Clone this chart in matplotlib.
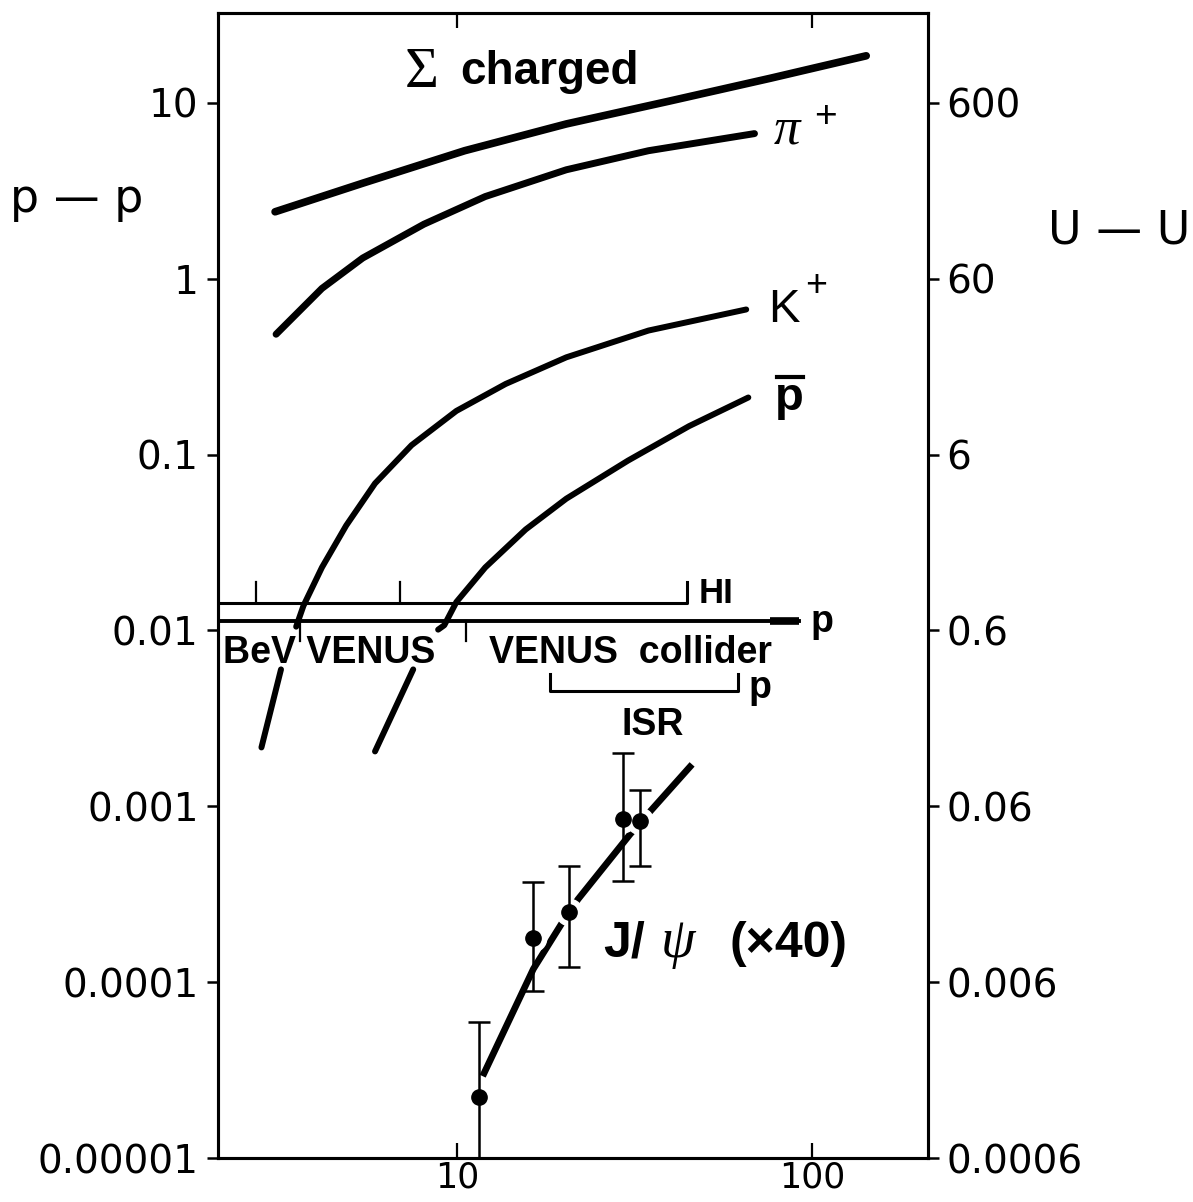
import numpy as np
import matplotlib.pyplot as plt
from matplotlib.lines import Line2D

W, H = 1193, 1202

# curves (x = energy, y = ratio to p-p)
x_sigma = [3.07, 5.42, 10.5, 20.3, 39.4, 76.4, 142]
y_sigma = [2.40, 3.49, 5.34, 7.58, 10.2, 13.8, 18.5]

x_pi = [3.09, 4.16, 5.42, 8.06, 12.0, 20.3, 34.6, 68.8]
y_pi = [0.483, 0.880, 1.31, 2.04, 2.93, 4.16, 5.34, 6.68]

x_k = [2.81, 3.19, np.nan, 3.52, 3.69, 4.16, 4.87, 5.87, 7.44, 9.95, 13.7, 20.3, 34.6, 65.2]
y_k = [0.00216, 0.0060, np.nan, 0.0105, 0.0138, 0.0228, 0.0395, 0.0685, 0.113, 0.177,
       0.252, 0.357, 0.507, 0.668]

x_pbar = [5.87, 7.52, np.nan, 8.84, 9.20, 9.95, 12.0, 15.6, 20.3, 30.3, 45.0, 66.1]
y_pbar = [0.00205, 0.0060, np.nan, 0.0101, 0.0107, 0.0145, 0.0228, 0.0375, 0.0561, 0.0924,
          0.145, 0.211]

# J/psi points with error bars
x_jpsi = [11.5, 16.4, 20.7, 29.4, 32.7]
y_jpsi = [2.22e-5, 1.78e-4, 2.50e-4, 8.43e-4, 8.22e-4]
y_jpsi_hi = [5.93e-5, 3.70e-4, 4.56e-4, 2.0e-3, 1.23e-3]
y_jpsi_lo = [8.0e-6, 8.9e-5, 1.22e-4, 3.75e-4, 4.56e-4]

x_jfit = [11.8, 16.4, 19.8, 21.9, 30.7, 35.0, 45.9]
y_jfit = [2.92e-5, 1.19e-4, 2.19e-4, 2.96e-4, 6.93e-4, 9.37e-4, 1.73e-3]

# machine ranges
hi_end, hi_y, hi_ticks = 44.5, 0.0144, [2.72, 6.9]
p_end, p_y, p_ticks = 92, 0.01125, [3.6, 10.6]
isr_x, isr_y = [18.3, 61.9], 0.0045

yticks_left = [1e-5, 1e-4, 1e-3, 1e-2, 1e-1, 1, 10]
ylabels_left = ['0.00001', '0.0001', '0.001', '0.01', '0.1', '1', '10']
ylabels_right = ['0.0006', '0.006', '0.06', '0.6', '6', '60', '600']
scale_right = 60

xmin, xmax = 2.12, 212
ymin, ymax = 1e-5, 32.4


def fp(x, y):
    return x / W, 1 - y / H


fig = plt.figure(figsize=(W / 100, H / 100), dpi=100)
ax = fig.add_axes([218 / W, 1 - 1158 / H, 710 / W, 1145 / H])
ax.set_xscale('log')
ax.set_yscale('log')
ax.set_xlim(xmin, xmax)
ax.set_ylim(ymin, ymax)

lw = 5
ax.plot(x_sigma, y_sigma, color='black', lw=lw + 0.5, solid_capstyle='round')
ax.plot(x_pi, y_pi, color='black', lw=lw, solid_capstyle='round')
ax.plot(x_k, y_k, color='black', lw=4.3, solid_capstyle='round')
ax.plot(x_pbar, y_pbar, color='black', lw=4.3, solid_capstyle='round')

# accelerator lines
ax.plot([xmin, hi_end, hi_end], [hi_y, hi_y, 0.01875], color='black', lw=2.2)
for t in hi_ticks:
    ax.plot([t, t], [hi_y, 0.01875], color='black', lw=1.6)
ax.plot([xmin, p_end], [p_y, p_y], color='black', lw=2.8)
ax.plot([76, p_end], [p_y, p_y], color='black', lw=5.5, solid_capstyle='butt')
for t in p_ticks:
    ax.plot([t, t], [p_y, 0.00866], color='black', lw=1.6)
ax.plot([isr_x[0], isr_x[0], isr_x[1], isr_x[1]], [0.00562, isr_y, isr_y, 0.00562],
        color='black', lw=2.2)

# J/psi
ax.plot(x_jfit, y_jfit, color='black', lw=4.8, solid_capstyle='butt', zorder=2)
ax.plot(x_jpsi, y_jpsi, 'o', ms=19, color='white', zorder=3)
yerr = [np.array(y_jpsi) - np.array(y_jpsi_lo), np.array(y_jpsi_hi) - np.array(y_jpsi)]
ax.errorbar(x_jpsi, y_jpsi, yerr=yerr, fmt='o', color='black', ms=11,
            elinewidth=1.8, capsize=8, capthick=1.8, zorder=4)

# axes styling
for s in ax.spines.values():
    s.set_linewidth(2.2)
ax.set_xticks([10, 100])
ax.set_xticklabels(['10', '100'])
ax.xaxis.set_minor_locator(plt.NullLocator())
ax.yaxis.set_minor_locator(plt.NullLocator())
ax.set_yticks(yticks_left)
ax.set_yticklabels(ylabels_left)
ax.tick_params(axis='x', which='major', direction='in', length=11, width=1.6,
               top=True, labelsize=25, pad=2)
ax.tick_params(axis='y', which='major', direction='out', length=8, width=1.8,
               labelsize=28, pad=6)

ax2 = ax.twinx()
ax2.set_yscale('log')
ax2.set_ylim(ymin * scale_right, ymax * scale_right)
ax2.set_yticks([v * scale_right for v in yticks_left])
ax2.set_yticklabels(ylabels_right)
ax2.yaxis.set_minor_locator(plt.NullLocator())
ax2.tick_params(axis='y', direction='out', length=8, width=1.8, labelsize=28, pad=5)
for s in ax2.spines.values():
    s.set_linewidth(2.2)

# side labels
fig.text(*fp(10, 212), 'p — p', fontsize=33, va='baseline', ha='left')
fig.text(*fp(1048, 243), 'U — U', fontsize=33, va='baseline', ha='left')

# curve labels
sans = 'Liberation Sans'
serif = 'Liberation Serif'
fig.text(*fp(405, 87), 'Σ', family=serif, fontsize=42, va='baseline')
fig.text(*fp(460, 84), 'charged', family=sans, weight='bold', fontsize=33, va='baseline')
fig.text(*fp(774, 143), 'π', family=serif, style='italic', fontsize=38, va='baseline')
fig.text(*fp(814, 127), '+', family=sans, fontsize=28, va='baseline')
fig.text(*fp(768, 322), 'K', family=sans, fontsize=34, va='baseline')
fig.text(*fp(805, 296), '+', family=sans, fontsize=27, va='baseline')
fig.text(*fp(775, 410), 'p', family=sans, weight='bold', fontsize=34, va='baseline')
fig.add_artist(Line2D([777 / W, 803 / W], [1 - 377 / H, 1 - 377 / H], color='black', lw=3))

fig.text(*fp(699, 603), 'HI', family=sans, weight='bold', fontsize=25, va='baseline')
fig.text(*fp(811, 632), 'p', family=sans, weight='bold', fontsize=27, va='baseline')
fig.text(*fp(223, 663), 'BeV VENUS', family=sans, weight='bold', fontsize=27, va='baseline')
fig.text(*fp(489, 663), 'VENUS  collider', family=sans, weight='bold', fontsize=27, va='baseline')
fig.text(*fp(749, 698), 'p', family=sans, weight='bold', fontsize=27, va='baseline')
fig.text(*fp(621, 735), 'ISR', family=sans, weight='bold', fontsize=27, va='baseline')

fig.text(*fp(603, 957), 'J/', family=sans, weight='bold', fontsize=36, va='baseline')
fig.text(*fp(661, 957), 'ψ', family=serif, style='italic', fontsize=40, va='baseline')
fig.text(*fp(729, 957), '(×40)', family=sans, weight='bold', fontsize=36, va='baseline')

fig.savefig('out.png', dpi=100, facecolor='white')
